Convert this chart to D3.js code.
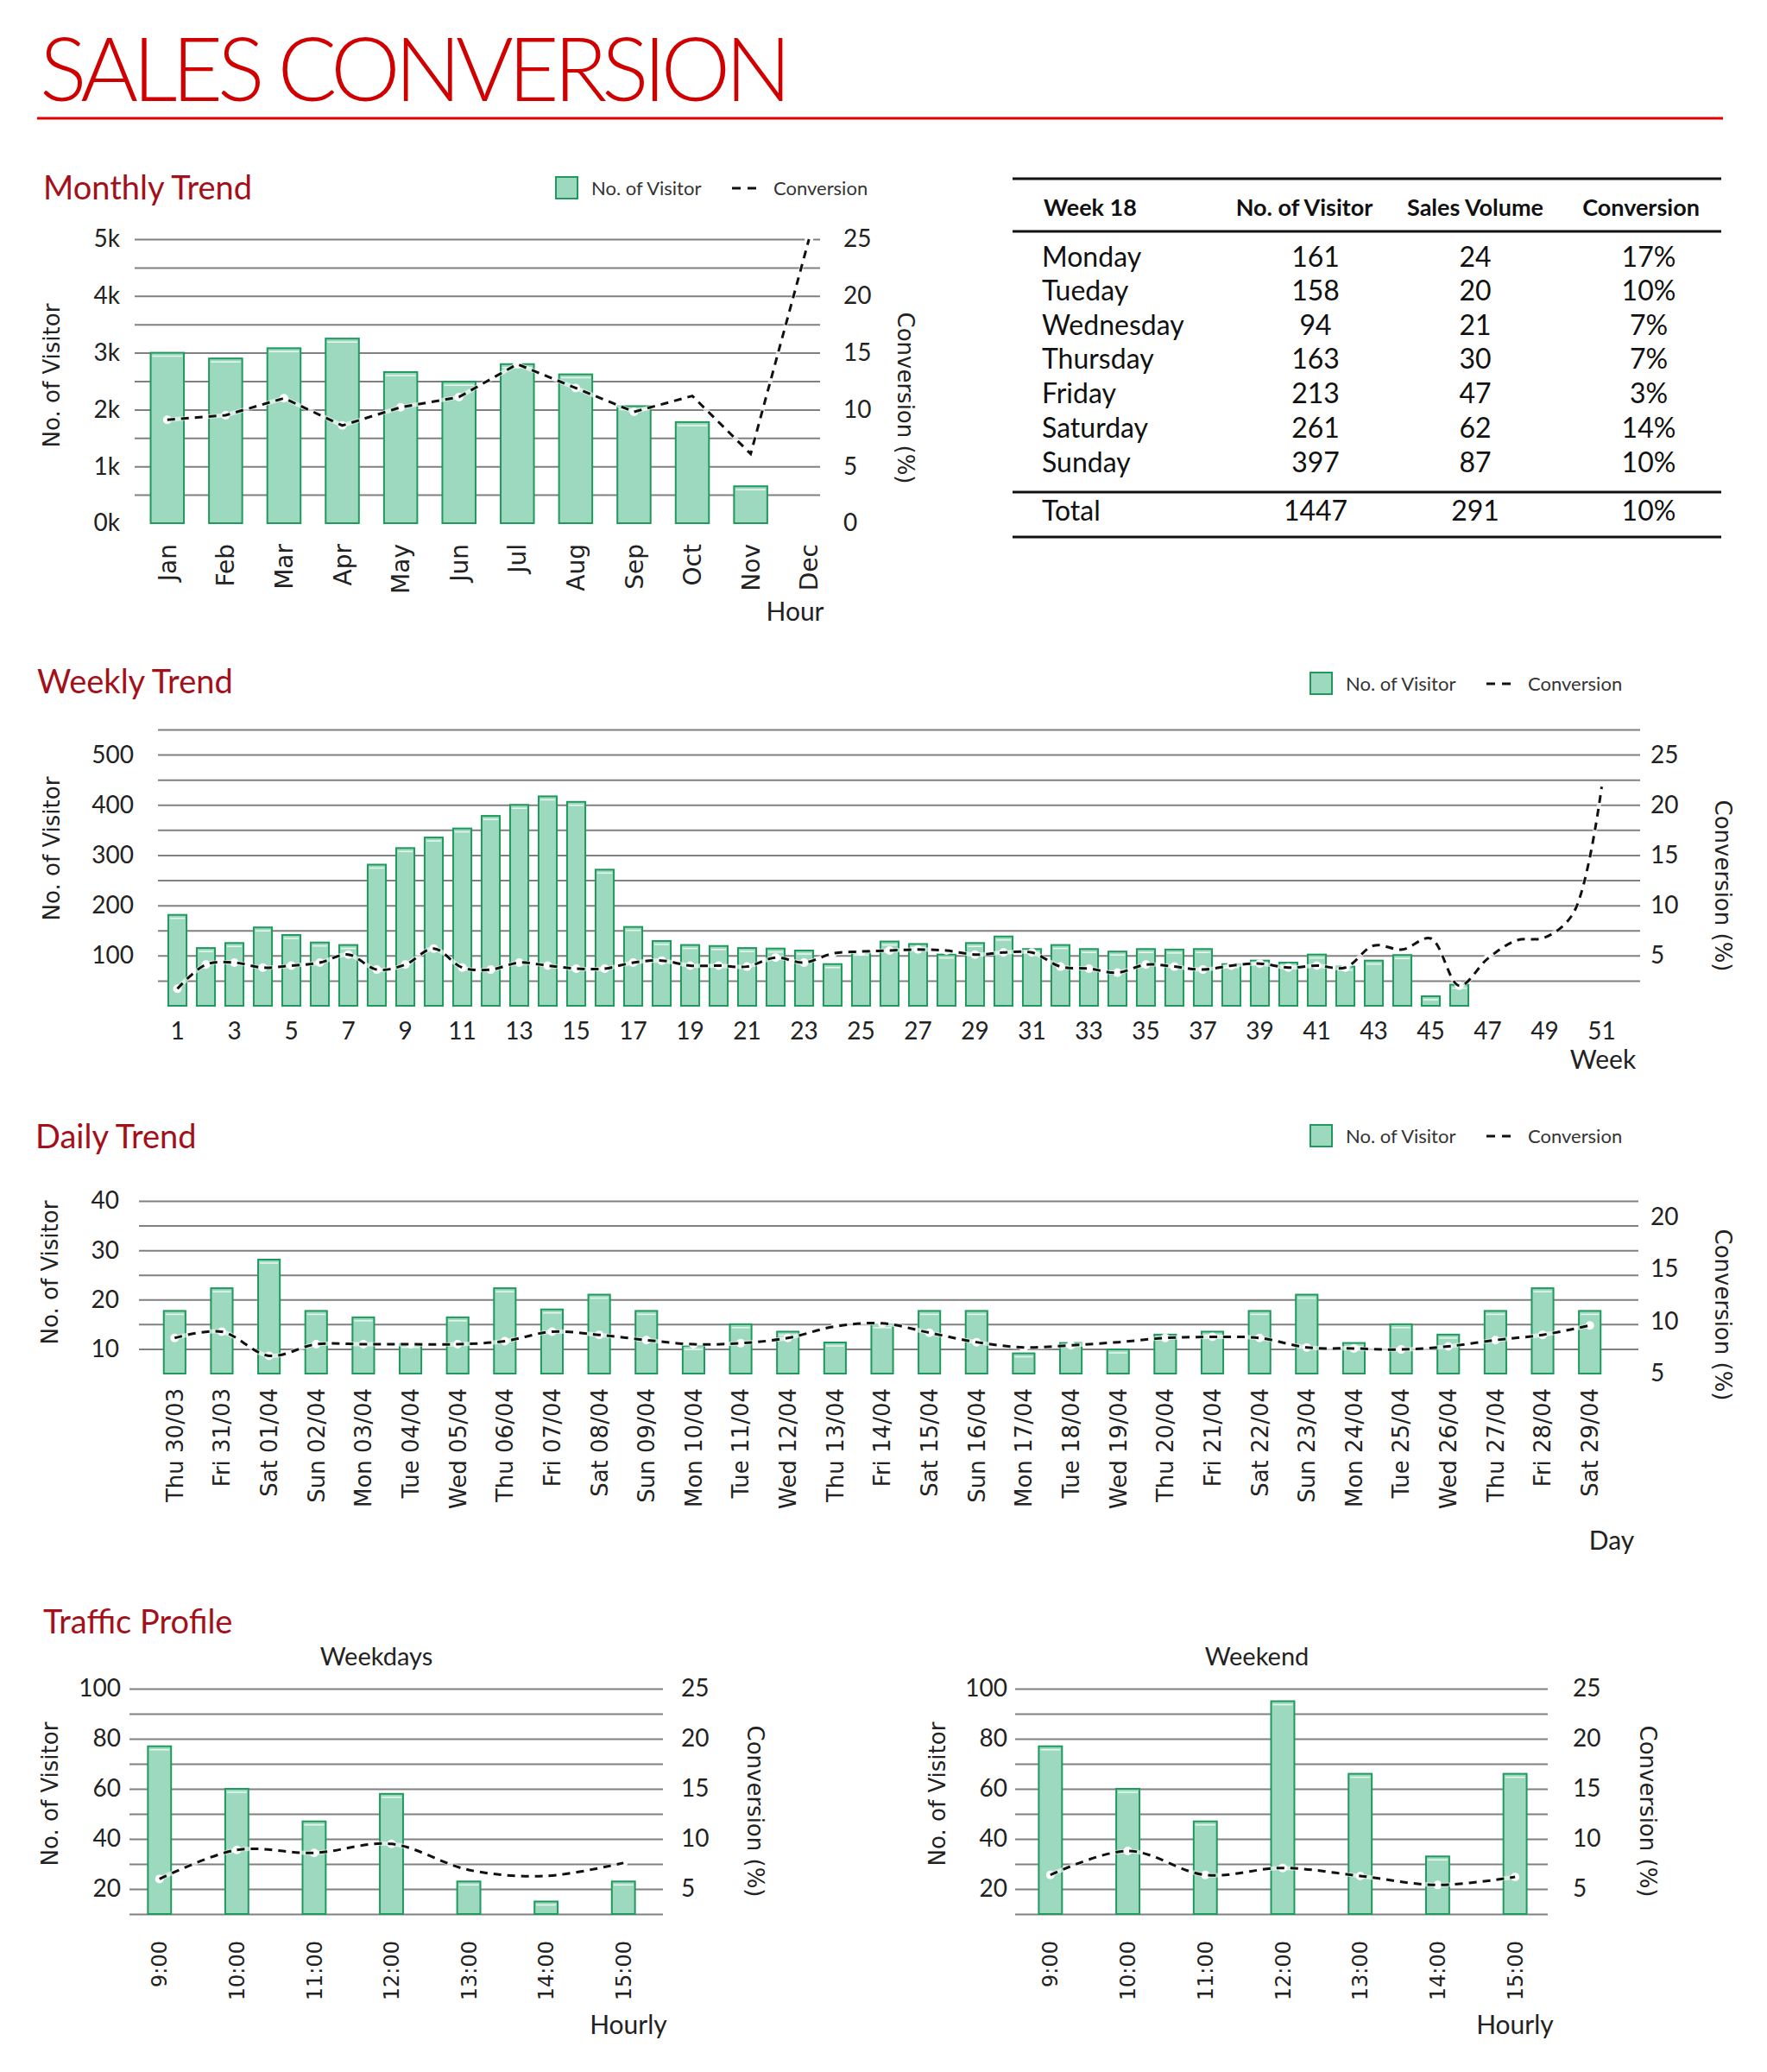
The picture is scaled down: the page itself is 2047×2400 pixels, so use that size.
<!DOCTYPE html>
<html>
<head>
<meta charset="utf-8">
<script src="https://cdn.jsdelivr.net/npm/d3@7"></script>
<style>
  body { margin: 0; background: #fff; }
  .grid line { stroke: #808080; stroke-width: 2px; }
</style>
</head>
<body>
<script>
// ---- data ----
var months = ["Jan","Feb","Mar","Apr","May","Jun","Jul","Aug","Sep","Oct","Nov","Dec"];
var monthlyVisitors = [3000, 2900, 3080, 3250, 2660, 2490, 2800, 2620, 2060, 1780, 650, null];
var monthlyConversion = [9.1, 9.5, 11.0, 8.6, 10.2, 11.1, 14.0, 11.9, 9.8, 11.2, 6.1, 25];
var monthlyLeftTicks = [0, 1000, 2000, 3000, 4000, 5000];
var monthlyRightTicks = [0, 5, 10, 15, 20, 25];

var weeks = [1,2,3,4,5,6,7,8,9,10,11,12,13,14,15,16,17,18,19,20,21,22,23,24,25,26,
             27,28,29,30,31,32,33,34,35,36,37,38,39,40,41,42,43,44,45,46,47,48,49,50,51,52];
var weekLabels = [1,3,5,7,9,11,13,15,17,19,21,23,25,27,29,31,33,35,37,39,41,43,45,47,49,51];
var weeklyVisitors = [181,115,125,156,141,126,121,281,314,335,353,378,400,417,406,271,157,129,121,119,
                      115,114,110,83,108,128,123,102,125,138,113,121,113,108,113,112,113,83,90,86,
                      102,78,90,101,19,42,null,null,null,null,null,null];
var weeklyConversion = [1.7,4.1,4.3,3.8,4.0,4.3,5.1,3.6,4.1,5.7,3.8,3.6,4.3,4.0,3.7,3.7,4.3,4.5,4.0,4.0,
                        3.9,4.8,4.3,5.2,5.4,5.5,5.6,5.5,5.1,5.3,5.3,3.9,3.7,3.3,4.1,3.9,3.6,4.0,4.2,3.8,
                        4.0,3.8,6.0,5.6,6.7,2.0,4.7,6.5,6.8,9.2,21.8,null];
var weeklyLeftTicks = [100, 200, 300, 400, 500];
var weeklyRightTicks = [5, 10, 15, 20, 25];

var days = ["Thu 30/03","Fri 31/03","Sat 01/04","Sun 02/04","Mon 03/04","Tue 04/04","Wed 05/04",
            "Thu 06/04","Fri 07/04","Sat 08/04","Sun 09/04","Mon 10/04","Tue 11/04","Wed 12/04",
            "Thu 13/04","Fri 14/04","Sat 15/04","Sun 16/04","Mon 17/04","Tue 18/04","Wed 19/04",
            "Thu 20/04","Fri 21/04","Sat 22/04","Sun 23/04","Mon 24/04","Tue 25/04","Wed 26/04",
            "Thu 27/04","Fri 28/04","Sat 29/04"];
var dailyVisitors = [17.7,22.3,28.1,17.7,16.4,11.0,16.4,22.3,18.0,21.0,17.7,10.6,15.0,13.5,11.3,15.0,
                     17.7,17.7,9.1,11.2,9.9,12.9,13.5,17.7,21.0,11.2,15.0,12.9,17.7,22.3,17.7];
var dailyConversion = [8.4,9.0,6.7,7.8,7.8,7.8,7.8,8.1,9.0,8.7,8.2,7.8,7.9,8.4,9.5,9.8,
                       8.9,8.0,7.5,7.7,8.0,8.4,8.5,8.4,7.5,7.4,7.3,7.6,8.2,8.7,9.6];
var dailyLeftTicks = [10, 20, 30, 40];
var dailyRightTicks = [5, 10, 15, 20];

var hours = ["9:00","10:00","11:00","12:00","13:00","14:00","15:00"];
var weekdayVisitors = [77, 60, 47, 58, 23, 15, 23];
var weekdayConversion = [6.0, 8.9, 8.6, 9.5, 6.9, 6.3, 7.6];
var weekendVisitors = [77, 60, 47, 95, 66, 33, 66];
var weekendConversion = [6.4, 8.8, 6.4, 7.1, 6.3, 5.4, 6.2];
var hourlyLeftTicks = [20, 40, 60, 80, 100];
var hourlyRightTicks = [5, 10, 15, 20, 25];

var tableHeader = ["Week 18", "No. of Visitor", "Sales Volume", "Conversion"];
var tableDays = ["Monday","Tueday","Wednesday","Thursday","Friday","Saturday","Sunday"];
var tableVisitors = [161, 158, 94, 163, 213, 261, 397];
var tableSales = [24, 20, 21, 30, 47, 62, 87];
var tableConversion = ["17%","10%","7%","7%","3%","14%","10%"];
var totalConversion = "10%";

// ---- page ----
var NARROW = "Lato, 'Open Sans', sans-serif";
var WIDE = "'DejaVu Sans', Verdana, sans-serif";
var barFill = "#9dd9bf", barStroke = "#1f9a5c";

var svg = d3.select("body").append("svg")
    .attr("width", 2047)
    .attr("height", 2400)
    .style("font-family", NARROW);

svg.append("text")
    .attr("x", 46).attr("y", 117)
    .attr("textLength", 871)
    .style("font-size", "102px")
    .style("font-weight", 300)
    .attr("fill", "#d00000")
    .text("SALES CONVERSION");

svg.append("line")
    .attr("x1", 43).attr("x2", 1996)
    .attr("y1", 137).attr("y2", 137)
    .attr("stroke", "#e00000").attr("stroke-width", 3);

function sectionTitle(txt, x, y) {
    svg.append("text")
        .attr("x", x).attr("y", y)
        .style("font-size", "38px")
        .attr("fill", "#a3101a")
        .text(txt);
}
sectionTitle("Monthly Trend", 50, 231);
sectionTitle("Weekly Trend", 43, 803);
sectionTitle("Daily Trend", 41, 1330);
sectionTitle("Traffic Profile", 50, 1892);

function comboChart(o) {
    var g = svg.append("g");

    var x = d3.scaleBand()
        .domain(o.cats)
        .range(o.xRange)
        .paddingInner(o.pad)
        .paddingOuter(o.pad / 2);
    var y = d3.scaleLinear().domain(o.yDomain).range([o.yBottom, o.yTop]);
    var y2 = d3.scaleLinear().domain(o.y2Domain).range([o.yBottom, o.yTop]);

    // grid
    g.append("g")
        .attr("class", "grid")
        .attr("transform", "translate(" + o.gridX[0] + ",0)")
        .call(d3.axisLeft(y).tickValues(o.grid).tickSize(-(o.gridX[1] - o.gridX[0])).tickFormat(""))
        .call(function(a) { a.select(".domain").remove(); });

    // bars
    var barData = o.cats.map(function(c, i) { return {cat: c, v: o.bars[i]}; })
        .filter(function(d) { return d.v != null; });
    g.selectAll(".bar")
        .data(barData)
        .enter().append("rect")
        .attr("class", "bar")
        .attr("x", function(d) { return x(d.cat); })
        .attr("width", x.bandwidth())
        .attr("y", function(d) { return y(d.v); })
        .attr("height", function(d) { return o.yBottom - y(d.v); })
        .attr("fill", barFill)
        .attr("stroke", barStroke)
        .attr("stroke-width", 2);
    g.selectAll(".hl")
        .data(barData)
        .enter().append("line")
        .attr("x1", function(d) { return x(d.cat) + 2; })
        .attr("x2", function(d) { return x(d.cat) + x.bandwidth() - 2; })
        .attr("y1", function(d) { return y(d.v) + 4; })
        .attr("y2", function(d) { return y(d.v) + 4; })
        .attr("stroke", "#fff").attr("stroke-opacity", 0.8).attr("stroke-width", 1.5);

    // conversion line
    var lineData = o.cats.map(function(c, i) { return {cat: c, v: o.line[i]}; });
    var line = d3.line()
        .defined(function(d) { return d.v != null; })
        .x(function(d) { return x(d.cat) + x.bandwidth() / 2; })
        .y(function(d) { return y2(d.v); })
        .curve(o.curve);
    g.append("path").datum(lineData)
        .attr("d", line).attr("fill", "none")
        .attr("stroke", "#fff").attr("stroke-width", 5).attr("stroke-opacity", 0.6);
    g.selectAll(".pt")
        .data(lineData.filter(function(d) { return d.v != null; }))
        .enter().append("circle")
        .attr("cx", function(d) { return x(d.cat) + x.bandwidth() / 2; })
        .attr("cy", function(d) { return y2(d.v); })
        .attr("r", 5).attr("fill", "#fff");
    g.append("path").datum(lineData)
        .attr("d", line).attr("fill", "none")
        .attr("stroke", "#111").attr("stroke-width", 3)
        .attr("stroke-dasharray", "9,7");

    // y labels
    g.append("g")
        .attr("transform", "translate(" + o.leftX + ",0)")
        .call(d3.axisLeft(y).tickValues(o.leftTicks).tickSize(0).tickPadding(0)
            .tickFormat(o.leftFormat || d3.format("d")))
        .call(function(a) {
            a.select(".domain").remove();
            a.selectAll("text").style("font-family", NARROW).style("font-size", "28px").attr("fill", "#222");
        });
    g.append("g")
        .attr("transform", "translate(" + o.rightX + ",0)")
        .call(d3.axisRight(y2).tickValues(o.rightTicks).tickSize(0).tickPadding(0))
        .call(function(a) {
            a.select(".domain").remove();
            a.selectAll("text").style("font-family", NARROW).style("font-size", "28px").attr("fill", "#222");
        });

    // x labels
    var xa = d3.axisBottom(x).tickSize(0);
    if (o.xTicks) xa.tickValues(o.xTicks);
    var xg = g.append("g")
        .attr("transform", "translate(0," + o.xAxisY + ")")
        .call(xa);
    xg.select(".domain").remove();
    if (o.rotate) {
        xg.selectAll("text")
            .attr("transform", "rotate(-90)")
            .attr("x", 0).attr("y", 0).attr("dy", "0.36em")
            .style("text-anchor", "end")
            .style("font-family", WIDE).style("font-size", o.xFont + "px").attr("fill", "#222");
    } else {
        xg.selectAll("text")
            .attr("y", 0).attr("dy", "0.71em")
            .style("font-family", NARROW).style("font-size", o.xFont + "px").attr("fill", "#222");
    }

    // axis titles
    g.append("text")
        .attr("transform", "translate(" + o.leftTitle[0] + "," + o.leftTitle[1] + ") rotate(-90)")
        .attr("dy", "0.35em").style("text-anchor", "middle")
        .style("font-family", WIDE).style("font-size", "26px").attr("fill", "#222")
        .text("No.  of Visitor");
    g.append("text")
        .attr("transform", "translate(" + o.rightTitle[0] + "," + o.rightTitle[1] + ") rotate(90)")
        .attr("dy", "0.35em").style("text-anchor", "middle")
        .style("font-family", WIDE).style("font-size", "26px").attr("fill", "#222")
        .text("Conversion (%)");
    g.append("text")
        .attr("x", o.xTitle[1]).attr("y", o.xTitle[2])
        .style("text-anchor", "middle").style("font-size", "30px").attr("fill", "#222")
        .text(o.xTitle[0]);

    if (o.subtitle) {
        g.append("text")
            .attr("x", o.subtitle[1]).attr("y", o.subtitle[2])
            .style("text-anchor", "middle").style("font-size", "29px").attr("fill", "#222")
            .text(o.subtitle[0]);
    }

    if (o.legend) {
        var lg = g.append("g").attr("transform", "translate(" + o.legend[0] + "," + o.legend[1] + ")");
        lg.append("rect").attr("x", 1).attr("y", 1).attr("width", 25).attr("height", 25)
            .attr("fill", barFill).attr("stroke", barStroke).attr("stroke-width", 2);
        lg.append("text").attr("x", 42).attr("y", 22).style("font-size", "22px").attr("fill", "#333")
            .text("No. of Visitor");
        lg.append("line").attr("x1", 205).attr("x2", 234).attr("y1", 14).attr("y2", 14)
            .attr("stroke", "#111").attr("stroke-width", 3).attr("stroke-dasharray", "10,8");
        lg.append("text").attr("x", 253).attr("y", 22).style("font-size", "22px").attr("fill", "#333")
            .text("Conversion");
    }
}

comboChart({
    cats: months, bars: monthlyVisitors, line: monthlyConversion,
    xRange: [160, 971], gridX: [156, 950], yTop: 277, yBottom: 606,
    yDomain: [0, 5000], y2Domain: [0, 25],
    grid: d3.range(500, 5001, 500),
    leftTicks: monthlyLeftTicks, leftFormat: function(d) { return (d / 1000) + "k"; },
    rightTicks: monthlyRightTicks,
    leftX: 139, rightX: 977, pad: 0.43, curve: d3.curveLinear,
    xAxisY: 630, rotate: true, xFont: 28,
    leftTitle: [60, 435], rightTitle: [1049, 461],
    xTitle: ["Hour", 921, 719],
    legend: [643, 204]
});

comboChart({
    cats: weeks, bars: weeklyVisitors, line: weeklyConversion,
    xRange: [189, 1905], gridX: [183, 1900], yTop: 845, yBottom: 1165,
    yDomain: [0, 550], y2Domain: [0, 27.5],
    grid: d3.range(50, 551, 50),
    leftTicks: weeklyLeftTicks, rightTicks: weeklyRightTicks,
    leftX: 155, rightX: 1912, pad: 0.36, curve: d3.curveCatmullRom,
    xAxisY: 1184, xTicks: weekLabels, rotate: false, xFont: 28,
    leftTitle: [60, 983], rightTitle: [1996, 1026],
    xTitle: ["Week", 1857, 1238],
    legend: [1517, 778]
});

comboChart({
    cats: days, bars: dailyVisitors, line: dailyConversion,
    xRange: [175, 1869], gridX: [161, 1898], yTop: 1391, yBottom: 1591,
    yDomain: [5, 40], y2Domain: [5, 21.5],
    grid: d3.range(10, 41, 5),
    leftTicks: dailyLeftTicks, rightTicks: dailyRightTicks,
    leftX: 138, rightX: 1912, pad: 0.54, curve: d3.curveCatmullRom,
    xAxisY: 1608, rotate: true, xFont: 26,
    leftTitle: [58, 1474], rightTitle: [1996, 1523],
    xTitle: ["Day", 1867, 1795],
    legend: [1517, 1302]
});

comboChart({
    cats: hours, bars: weekdayVisitors, line: weekdayConversion,
    xRange: [140, 767], gridX: [150, 768], yTop: 1956, yBottom: 2217,
    yDomain: [10, 100], y2Domain: [2.5, 25],
    grid: d3.range(10, 101, 10),
    leftTicks: hourlyLeftTicks, rightTicks: hourlyRightTicks,
    leftX: 140, rightX: 789, pad: 0.7, curve: d3.curveCatmullRom,
    xAxisY: 2248, rotate: true, xFont: 24,
    leftTitle: [58, 2078], rightTitle: [875, 2098],
    xTitle: ["Hourly", 728, 2356],
    subtitle: ["Weekdays", 436, 1929]
});

comboChart({
    cats: hours, bars: weekendVisitors, line: weekendConversion,
    xRange: [1172, 1800], gridX: [1176, 1793], yTop: 1956, yBottom: 2217,
    yDomain: [10, 100], y2Domain: [2.5, 25],
    grid: d3.range(10, 101, 10),
    leftTicks: hourlyLeftTicks, rightTicks: hourlyRightTicks,
    leftX: 1167, rightX: 1822, pad: 0.7, curve: d3.curveCatmullRom,
    xAxisY: 2248, rotate: true, xFont: 24,
    leftTitle: [1086, 2078], rightTitle: [1909, 2098],
    xTitle: ["Hourly", 1755, 2356],
    subtitle: ["Weekend", 1456, 1929]
});

// ---- table ----
var tbl = svg.append("g").attr("fill", "#111");
[[207, 3], [268, 3], [570, 3], [622, 3]].forEach(function(l) {
    tbl.append("line").attr("x1", 1173).attr("x2", 1994)
        .attr("y1", l[0]).attr("y2", l[0])
        .attr("stroke", "#111").attr("stroke-width", l[1]);
});
var headX = [1209, 1511, 1709, 1901];
var valX = [1207, 1524, 1709, 1910];
tbl.selectAll(".th")
    .data(tableHeader)
    .enter().append("text")
    .attr("x", function(d, i) { return headX[i]; })
    .attr("y", 250)
    .style("text-anchor", function(d, i) { return i === 0 ? "start" : "middle"; })
    .style("font-weight", 700).style("font-size", "27px")
    .text(function(d) { return d; });

var rows = tableDays.map(function(d, i) {
    return [d, tableVisitors[i], tableSales[i], tableConversion[i]];
});
rows.push(["Total", d3.sum(tableVisitors), d3.sum(tableSales), totalConversion]);
var rowY = [309, 348, 388, 427, 467, 507, 547, 603];

tbl.selectAll(".tr")
    .data(rows)
    .enter().append("g")
    .attr("transform", function(d, i) { return "translate(0," + rowY[i] + ")"; })
    .selectAll("text")
    .data(function(d) { return d; })
    .enter().append("text")
    .attr("x", function(d, i) { return valX[i]; })
    .style("text-anchor", function(d, i) { return i === 0 ? "start" : "middle"; })
    .style("font-size", "32px")
    .text(function(d) { return d; });
</script>
</body>
</html>
